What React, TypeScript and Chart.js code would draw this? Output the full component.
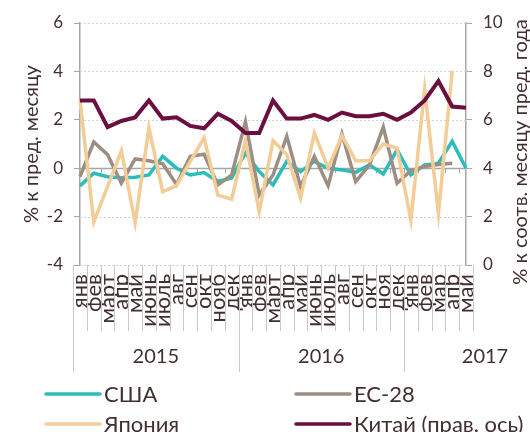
import React, { useEffect, useRef } from "react";
import { Chart, registerables } from "chart.js";

Chart.register(...registerables);

const months = ["янв","фев","март","апр","май","июнь","июль","авг","сен","окт","нояб","дек","янв","фев","март","апр","май","июнь","июль","авг","сен","окт","ноя","дек","янв","фев","мар","апр","май"];
const years = ["2015", "2016", "2017"];
const yearSizes = [12, 12, 5];

const usa = [-0.73,-0.21,-0.35,-0.39,-0.37,-0.28,0.49,0,-0.28,-0.18,-0.55,-0.4,0.63,-0.14,-0.69,0.28,-0.14,0.28,0,-0.07,-0.17,0.14,-0.24,0.76,-0.28,0.14,0.21,1.11,0];
const eu = [-0.35,1.08,0.56,-0.62,0.38,0.31,0.18,-0.67,0.49,0.58,-0.69,-0.28,1.92,-1.11,-0.28,1.32,-0.76,0.49,-0.72,1.42,-0.55,0.14,1.7,-0.62,-0.1,0.07,0.15,0.2,null];
const japan = [2.8,-2.22,-0.76,0.72,-2.25,1.67,-0.97,-0.72,0.28,1.25,-1.11,-1.28,1.14,-1.8,1.14,0.56,-1.24,1.46,0,1.35,0.31,0.31,1.0,0.83,-2.15,3.27,-1.87,4.03,null];
const china = [6.8,6.8,5.7,5.95,6.1,6.8,6.05,6.1,5.75,5.65,6.25,5.95,5.45,5.45,6.8,6.05,6.05,6.2,6.0,6.3,6.15,6.15,6.25,6.0,6.3,6.8,7.6,6.55,6.5];

const leftTitle = "% к пред. месяцу";
const rightTitle = "% к соотв. месяцу пред. года";
const seriesNames = ["США", "ЕС-28", "Япония", "Китай (прав. ось)"];
const colors = ["#2BBDB9", "#9D8E83", "#F2CD98", "#6B0F3E"];

const FONT = "Lato, 'Noto Sans', sans-serif";
const TEXT = "#423030";
const AXIS = "#A6A6A6";

const decor = {
  id: "decor",
  beforeDatasetsDraw(chart: any) {
    const { ctx, chartArea } = chart;
    const y = chart.scales.y;
    const x = chart.scales.x;
    ctx.save();
    for (let v = -4; v <= 6; v += 2) {
      const py = Math.round(y.getPixelForValue(v)) + 0.5;
      ctx.beginPath();
      if (v === 0) {
        ctx.setLineDash([]);
        ctx.strokeStyle = AXIS;
        ctx.lineWidth = 1.3;
      } else {
        ctx.setLineDash([2, 2]);
        ctx.strokeStyle = "#D4D4D4";
        ctx.lineWidth = 1;
      }
      ctx.moveTo(chartArea.left, py);
      ctx.lineTo(chartArea.right, py);
      ctx.stroke();
    }
    ctx.setLineDash([]);
    const w = x.getPixelForValue(1) - x.getPixelForValue(0);
    const y0 = y.getPixelForValue(0);
    ctx.strokeStyle = AXIS;
    ctx.lineWidth = 1;
    for (let i = 1; i < months.length; i++) {
      const px = Math.round(x.getPixelForValue(i) - w / 2) + 0.5;
      ctx.beginPath();
      ctx.moveTo(px, y0);
      ctx.lineTo(px, y0 + 5);
      ctx.stroke();
    }
    ctx.restore();
  },
  afterDraw(chart: any) {
    const { ctx, chartArea } = chart;
    const x = chart.scales.x;
    const w = x.getPixelForValue(1) - x.getPixelForValue(0);
    ctx.save();
    const starts: number[] = [];
    let acc = 0;
    yearSizes.forEach((s) => { starts.push(acc); acc += s; });
    ctx.strokeStyle = "#C8C8C8";
    ctx.lineWidth = 1;
    for (let i = 0; i <= months.length; i++) {
      const px = Math.round(x.getPixelForValue(i) - w / 2) + 0.5;
      const long = starts.includes(i);
      ctx.beginPath();
      ctx.moveTo(px, chartArea.bottom);
      ctx.lineTo(px, chartArea.bottom + (long ? 107 : 66));
      ctx.stroke();
    }
    ctx.fillStyle = TEXT;
    ctx.font = `20px ${FONT}`;
    ctx.textAlign = "center";
    ctx.textBaseline = "middle";
    years.forEach((yr, k) => {
      const a = starts[k];
      const b = a + yearSizes[k] - 1;
      let cx = (x.getPixelForValue(a) + x.getPixelForValue(b)) / 2;
      if (k === years.length - 1) cx = x.getPixelForValue(b) + 19;
      ctx.fillText(yr, cx, chartArea.bottom + 92);
    });
    ctx.font = `20px ${FONT}`;
    ctx.save();
    ctx.translate(32, (chartArea.top + chartArea.bottom) / 2);
    ctx.rotate(-Math.PI / 2);
    ctx.fillText(leftTitle, 0, 0);
    ctx.restore();
    ctx.save();
    ctx.translate(521, 152);
    ctx.rotate(-Math.PI / 2);
    ctx.fillText(rightTitle, 0, 0);
    ctx.restore();
    const cols = [46, 296];
    const rows = [394, 424];
    ctx.font = `22px ${FONT}`;
    ctx.textAlign = "left";
    seriesNames.forEach((name, k) => {
      const lx = cols[k % 2];
      const ly = rows[Math.floor(k / 2)];
      ctx.strokeStyle = colors[k];
      ctx.lineWidth = 3.5;
      ctx.lineCap = "round";
      ctx.beginPath();
      ctx.moveTo(lx, ly);
      ctx.lineTo(lx + 54, ly);
      ctx.stroke();
      ctx.fillStyle = TEXT;
      ctx.fillText(name, lx + 58, ly + 1);
    });
    ctx.restore();
  },
};

export default function App() {
  const ref = useRef<HTMLCanvasElement>(null);
  useEffect(() => {
    const mk = (label: string, data: (number | null)[], color: string, axis: string, order: number, width: number) => ({
      label, data, borderColor: color, backgroundColor: color, yAxisID: axis, order,
      borderWidth: width, pointRadius: 0, tension: 0, borderJoinStyle: "miter" as const, spanGaps: false,
    });
    const chart = new Chart(ref.current!, {
      type: "line",
      data: {
        labels: months,
        datasets: [
          mk(seriesNames[0], usa, colors[0], "y", 3, 3.5),
          mk(seriesNames[1], eu, colors[1], "y", 2, 3.5),
          mk(seriesNames[2], japan, colors[2], "y", 1, 3.5),
          mk(seriesNames[3], china, colors[3], "y2", 0, 4),
        ],
      },
      options: {
        responsive: false,
        animation: false,
        layout: { padding: { top: 23, left: 0, right: 0, bottom: 0 } },
        plugins: { legend: { display: false }, tooltip: { enabled: false } },
        scales: {
          x: {
            position: "bottom",
            grid: { display: false, drawTicks: false },
            border: { display: false },
            ticks: {
              autoSkip: false, minRotation: 90, maxRotation: 90, padding: 9,
              color: TEXT, font: { family: FONT, size: 22 },
            },
            afterFit: (s: any) => { s.height = 167; },
          },
          y: {
            position: "left", min: -4, max: 6,
            ticks: { stepSize: 2, color: TEXT, padding: 11, font: { family: FONT, size: 17 } },
            grid: { drawOnChartArea: false, drawTicks: true, tickLength: 6, color: AXIS, lineWidth: 1 },
            border: { display: true, color: AXIS, width: 1.5 },
            afterFit: (s: any) => { s.width = 80; },
          },
          y2: {
            position: "right", min: 0, max: 10,
            ticks: { stepSize: 2, color: TEXT, padding: 11, font: { family: FONT, size: 17 } },
            grid: { drawOnChartArea: false, drawTicks: true, tickLength: 6, color: AXIS, lineWidth: 1 },
            border: { display: true, color: AXIS, width: 1.5 },
            afterFit: (s: any) => { s.width = 64; },
          },
        },
      },
      plugins: [decor],
    });
    return () => chart.destroy();
  }, []);
  return (
    <div style={{ position: "absolute", left: 0, top: 0, width: 530, height: 432 }}>
      <canvas ref={ref} width={530} height={432} />
    </div>
  );
}
